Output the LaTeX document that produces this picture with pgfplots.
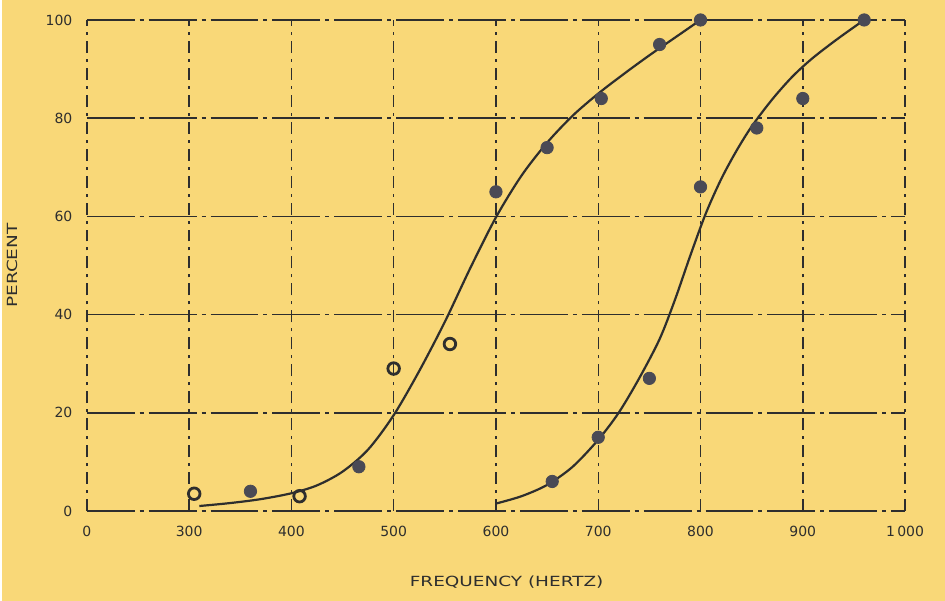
\documentclass[border=0pt]{standalone}
\usepackage{pgfplots}
\pgfplotsset{compat=1.18}
\usepackage{fontspec}
\setmainfont{DejaVu Sans}
\definecolor{bg}{HTML}{F9D878}
\definecolor{ink}{HTML}{2E2E2E}
\definecolor{dot}{HTML}{4A4A55}
\begin{document}
\begin{tikzpicture}
\fill[bg] (-42.5pt,-45pt) rectangle (430pt,256pt);
\begin{axis}[
  at={(0,0)}, anchor=south west, scale only axis,
  width=410pt, height=246pt,
  xmin=200, xmax=1000, ymin=0, ymax=100,
  xtick={200,300,...,1000},
  xticklabels={0,300,400,500,600,700,800,900,1\,000},
  ytick={0,20,...,100},
  axis line style={draw=none},
  major tick length=0pt,
  grid=major,
  x grid style={ink, line width=0.7pt, dash pattern=on 6pt off 3pt on 1.5pt off 3pt},
  y grid style={ink, line width=0.8pt, dash pattern=on 24pt off 2.5pt on 2pt off 2.5pt},
  ticklabel style={font=\fontsize{7}{8}\selectfont, text=ink},
  /pgf/number format/assume math mode=true,
  xticklabel style={anchor=center, yshift=-10.5pt},
  yticklabel style={anchor=east, xshift=-3.7pt},
  xlabel={\scalebox{1.32}[1]{FREQUENCY (HERTZ)}},
  ylabel={\scalebox{1.32}[1]{PERCENT}},
  label style={font=\fontsize{7}{8}\selectfont, text=ink},
  xlabel style={at={(axis description cs:0.513,-0.146)}, anchor=center},
  ylabel style={at={(axis description cs:-0.0915,0.5)}, anchor=center},
  clip=false,
]
% left fitted curve
\addplot[ink, line width=1.1pt, smooth, tension=0.5] coordinates {
  (310,1.0) (340,1.6) (370,2.4) (400,3.6) (425,5.2) (450,8.0) (475,12.5)
  (500,19.5) (525,28.5) (550,38.5) (575,49.5) (600,59.8) (625,68.3)
  (650,75) (675,80.5) (700,85) (725,89) (750,92.8) (775,96.4) (800,100)
};
% right fitted curve
\addplot[ink, line width=1.1pt, smooth, tension=0.5] coordinates {
  (600,1.5) (625,3.0) (650,5.3) (675,9.0) (700,14.5) (720,20) (740,27)
  (760,35) (775,43) (790,52) (805,60.5) (820,67.5) (835,73.3) (850,78.3)
  (870,83.8) (890,88.5) (910,92.3) (935,96.3) (960,100)
};
% filled points
\addplot[only marks, mark=*, mark size=3.1pt, mark options={fill=dot, draw=dot}] coordinates {
  (360,4) (466,9) (600,65) (650,74) (703,84) (760,95) (800,100)
  (655,6) (700,15) (750,27) (800,66) (855,78) (900,84) (960,100)
};
% open points
\addplot[only marks, mark=o, mark size=2.9pt, mark options={draw=ink, line width=1.4pt}] coordinates {
  (305,3.5) (408,3) (500,29) (555,34)
};
\end{axis}
\end{tikzpicture}
\end{document}
